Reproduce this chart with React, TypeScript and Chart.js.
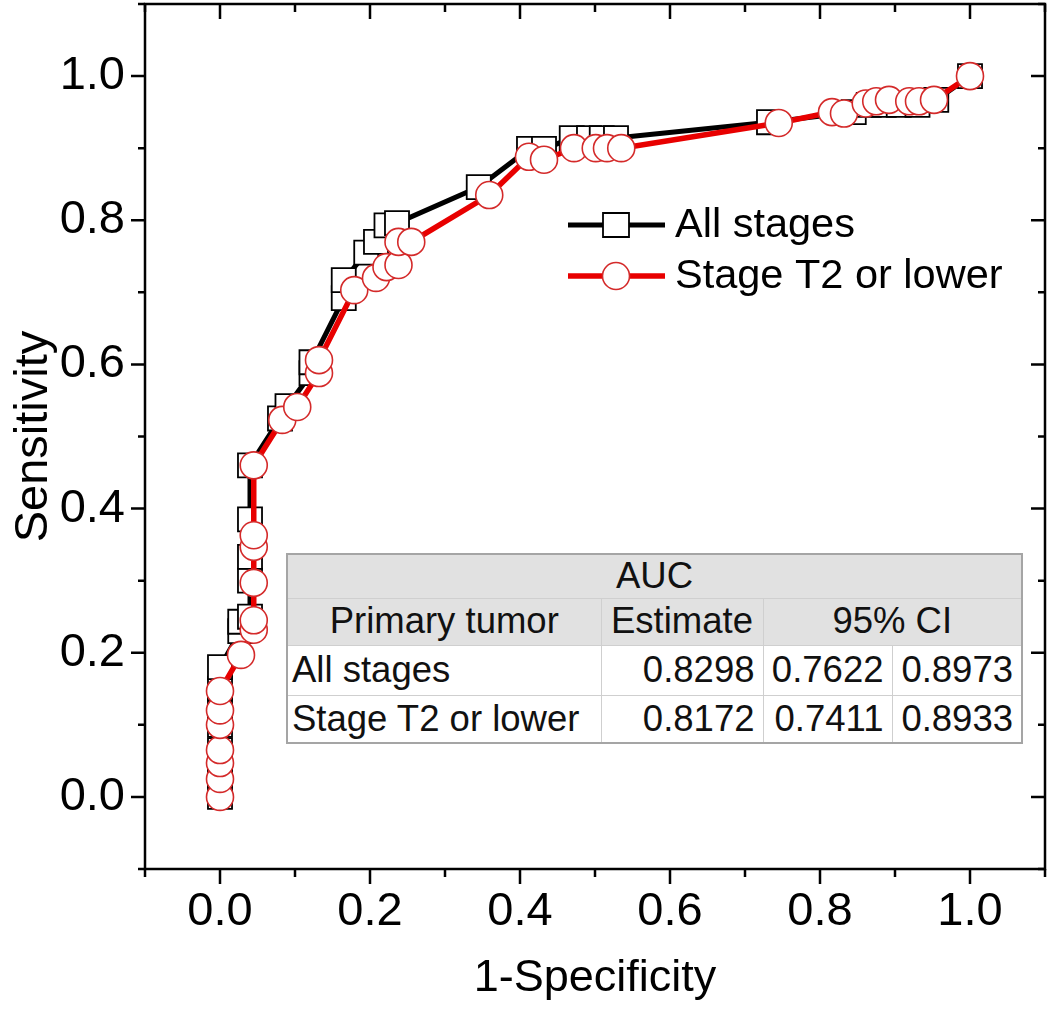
import React, { useEffect, useRef } from 'react';
import { Chart, registerables } from 'chart.js';

Chart.register(...registerables);

// ---- data ----
const SERIES_NAMES = ['All stages', 'Stage T2 or lower'];

const ALL_X = [0, 0, 0, 0, 0, 0, 0, 0, 0.027, 0.027, 0.04, 0.04, 0.04, 0.04, 0.04, 0.08, 0.09, 0.122, 0.122, 0.165, 0.165, 0.195, 0.208, 0.222, 0.236, 0.345, 0.412, 0.432, 0.469, 0.492, 0.509, 0.528, 0.732, 0.845, 0.865, 0.885, 0.905, 0.93, 0.955, 1.0];
const ALL_Y = [0, 0.03, 0.05, 0.065, 0.1, 0.12, 0.15, 0.18, 0.23, 0.243, 0.25, 0.3, 0.333, 0.385, 0.46, 0.525, 0.542, 0.588, 0.603, 0.692, 0.717, 0.755, 0.77, 0.793, 0.796, 0.846, 0.899, 0.899, 0.914, 0.914, 0.914, 0.914, 0.936, 0.95, 0.96, 0.96, 0.96, 0.96, 0.967, 1.0];

const T2_X = [0, 0, 0, 0, 0, 0, 0, 0.028, 0.045, 0.045, 0.045, 0.045, 0.045, 0.045, 0.083, 0.103, 0.132, 0.132, 0.179, 0.208, 0.222, 0.238, 0.238, 0.255, 0.359, 0.412, 0.432, 0.472, 0.501, 0.516, 0.535, 0.745, 0.816, 0.832, 0.861, 0.875, 0.892, 0.919, 0.932, 0.952, 1.0];
const T2_Y = [0, 0.025, 0.047, 0.065, 0.1, 0.12, 0.147, 0.197, 0.232, 0.245, 0.297, 0.347, 0.363, 0.46, 0.523, 0.541, 0.588, 0.606, 0.703, 0.72, 0.735, 0.738, 0.77, 0.77, 0.835, 0.888, 0.884, 0.9, 0.9, 0.9, 0.9, 0.935, 0.95, 0.948, 0.962, 0.965, 0.967, 0.965, 0.965, 0.967, 1.0];

const X_MAJOR = [0, 0.2, 0.4, 0.6, 0.8, 1.0];
const Y_MAJOR = [0, 0.2, 0.4, 0.6, 0.8, 1.0];
const MINOR = [-0.1, 0.1, 0.3, 0.5, 0.7, 0.9, 1.1];

const TABLE_TITLE = 'AUC';
const TABLE_HEAD = ['Primary tumor', 'Estimate', '95% CI'];
const TABLE_ROWS = ['All stages', 'Stage T2 or lower'];
const AUC_EST = ['0.8298', '0.8172'];
const CI_LOW = ['0.7622', '0.7411'];
const CI_HIGH = ['0.8973', '0.8933'];

const FONT = '"Liberation Sans", Arial, sans-serif';
const RED = '#e80000';

const framePlugin = {
  id: 'frameTicks',
  afterDraw(chart: any) {
    const { ctx, chartArea: a, scales } = chart;
    const x = scales.x;
    const y = scales.y;
    ctx.save();
    ctx.strokeStyle = '#000';
    ctx.lineWidth = 2.5;
    ctx.strokeRect(a.left, a.top, a.right - a.left, a.bottom - a.top);
    const drawX = (v: number, len: number) => {
      const p = x.getPixelForValue(v);
      ctx.beginPath();
      ctx.moveTo(p, a.bottom);
      ctx.lineTo(p, a.bottom + len);
      ctx.moveTo(p, a.top);
      ctx.lineTo(p, a.top + len);
      ctx.stroke();
    };
    const drawY = (v: number, len: number) => {
      const p = y.getPixelForValue(v);
      ctx.beginPath();
      ctx.moveTo(a.left, p);
      ctx.lineTo(a.left - len, p);
      ctx.moveTo(a.right, p);
      ctx.lineTo(a.right - len, p);
      ctx.stroke();
    };
    X_MAJOR.forEach((v) => drawX(v, 15));
    MINOR.forEach((v) => drawX(v, 8));
    Y_MAJOR.forEach((v) => drawY(v, 14));
    MINOR.forEach((v) => drawY(v, 7));
    ctx.restore();
  },
};

const legendPlugin = {
  id: 'customLegend',
  afterDraw(chart: any) {
    const { ctx } = chart;
    const rows = [
      { y: 225, ds: chart.data.datasets[0] },
      { y: 276, ds: chart.data.datasets[1] },
    ];
    ctx.save();
    rows.forEach(({ y, ds }) => {
      ctx.strokeStyle = ds.borderColor;
      ctx.lineWidth = ds.borderWidth;
      ctx.beginPath();
      ctx.moveTo(568, y);
      ctx.lineTo(665, y);
      ctx.stroke();
      ctx.fillStyle = '#fff';
      ctx.strokeStyle = ds.pointBorderColor;
      ctx.lineWidth = ds.pointBorderWidth;
      ctx.beginPath();
      if (ds.pointStyle === 'rect') {
        ctx.rect(616 - 13, y - 12, 26, 24);
      } else {
        ctx.arc(616, y, 13.5, 0, Math.PI * 2);
      }
      ctx.fill();
      ctx.stroke();
      ctx.fillStyle = '#000';
      ctx.font = `41.5px ${FONT}`;
      ctx.textBaseline = 'middle';
      ctx.textAlign = 'left';
      ctx.fillText(ds.label, 675, y + 1);
    });
    ctx.restore();
  },
};

const zeroPadding = (s: any) => {
  s.paddingLeft = 0;
  s.paddingRight = 0;
  s.paddingTop = 0;
  s.paddingBottom = 0;
};

export default function App() {
  const ref = useRef<HTMLCanvasElement>(null);

  useEffect(() => {
    document.body.style.margin = '0';
    const allPts = ALL_X.map((v, i) => ({ x: v, y: ALL_Y[i] }));
    const t2Pts = T2_X.map((v, i) => ({ x: v, y: T2_Y[i] }));
    const tickFont = { family: FONT, size: 47 };
    const chart = new Chart(ref.current as HTMLCanvasElement, {
      type: 'line',
      data: {
        datasets: [
          {
            label: SERIES_NAMES[0],
            data: allPts,
            borderColor: '#000',
            borderWidth: 5,
            pointStyle: 'rect',
            pointRadius: 17,
            pointBorderColor: '#000',
            pointBorderWidth: 1.8,
            pointBackgroundColor: '#fff',
            order: 2,
          } as any,
          {
            label: SERIES_NAMES[1],
            data: t2Pts,
            borderColor: RED,
            borderWidth: 5.5,
            pointStyle: 'circle',
            pointRadius: 13.5,
            pointBorderColor: '#d42a2a',
            pointBorderWidth: 1.6,
            pointBackgroundColor: '#fff',
            order: 1,
          } as any,
        ],
      },
      options: {
        animation: false,
        responsive: true,
        maintainAspectRatio: false,
        layout: { autoPadding: false, padding: { top: 4, right: 5, left: 0, bottom: 0 } },
        plugins: { legend: { display: false }, tooltip: { enabled: false } },
        scales: {
          x: {
            type: 'linear',
            min: -0.1,
            max: 1.1,
            afterBuildTicks: (s: any) => {
              s.ticks = X_MAJOR.map((v) => ({ value: v }));
            },
            afterFit: (s: any) => {
              s.height = 142;
              zeroPadding(s);
            },
            grid: { display: false, drawTicks: false },
            border: { display: false },
            ticks: {
              font: tickFont,
              color: '#000',
              padding: 15,
              maxRotation: 0,
              autoSkip: false,
              callback: (v: any) => Number(v).toFixed(1),
            },
            title: {
              display: true,
              text: '1-Specificity',
              font: { family: FONT, size: 45 },
              color: '#000',
              padding: { top: 0, bottom: 5 },
            },
          },
          y: {
            type: 'linear',
            min: -0.1,
            max: 1.1,
            afterBuildTicks: (s: any) => {
              s.ticks = Y_MAJOR.map((v) => ({ value: v }));
            },
            afterFit: (s: any) => {
              s.width = 145;
              zeroPadding(s);
            },
            grid: { display: false, drawTicks: false },
            border: { display: false },
            ticks: {
              font: tickFont,
              color: '#000',
              padding: 20,
              autoSkip: false,
              callback: (v: any) => Number(v).toFixed(1),
            },
            title: {
              display: true,
              text: 'Sensitivity',
              font: { family: FONT, size: 47 },
              color: '#000',
              padding: { top: 6, bottom: 0 },
            },
          },
        },
      } as any,
      plugins: [framePlugin, legendPlugin],
    });
    return () => chart.destroy();
  }, []);

  const cell: React.CSSProperties = {
    border: '1px solid #cfcfcf',
    padding: 0,
    verticalAlign: 'middle',
    whiteSpace: 'nowrap',
    lineHeight: 1,
  };
  const head: React.CSSProperties = { ...cell, background: '#e1e1e1', textAlign: 'center' };
  const num: React.CSSProperties = { ...cell, textAlign: 'right', paddingRight: 8 };

  return (
    <div style={{ position: 'relative', width: 1050, height: 1011, background: '#fff' }}>
      <canvas ref={ref} />
      <table
        style={{
          position: 'absolute',
          left: 286,
          top: 553,
          width: 735,
          height: 189,
          borderCollapse: 'collapse',
          border: '2px solid #a5a5a5',
          fontFamily: FONT,
          fontSize: 36.5,
          color: '#111',
          background: '#fff',
          tableLayout: 'fixed',
        }}
      >
        <colgroup>
          <col style={{ width: 314 }} />
          <col style={{ width: 162 }} />
          <col style={{ width: 129 }} />
          <col style={{ width: 130 }} />
        </colgroup>
        <tbody>
          <tr style={{ height: 44 }}>
            <td colSpan={4} style={head}>{TABLE_TITLE}</td>
          </tr>
          <tr style={{ height: 47 }}>
            <td style={head}>{TABLE_HEAD[0]}</td>
            <td style={head}>{TABLE_HEAD[1]}</td>
            <td colSpan={2} style={head}>{TABLE_HEAD[2]}</td>
          </tr>
          {TABLE_ROWS.map((r, i) => (
            <tr key={r} style={{ height: i === 0 ? 50 : 48 }}>
              <td style={{ ...cell, textAlign: 'left', paddingLeft: 4 }}>{r}</td>
              <td style={num}>{AUC_EST[i]}</td>
              <td style={num}>{CI_LOW[i]}</td>
              <td style={num}>{CI_HIGH[i]}</td>
            </tr>
          ))}
        </tbody>
      </table>
    </div>
  );
}
